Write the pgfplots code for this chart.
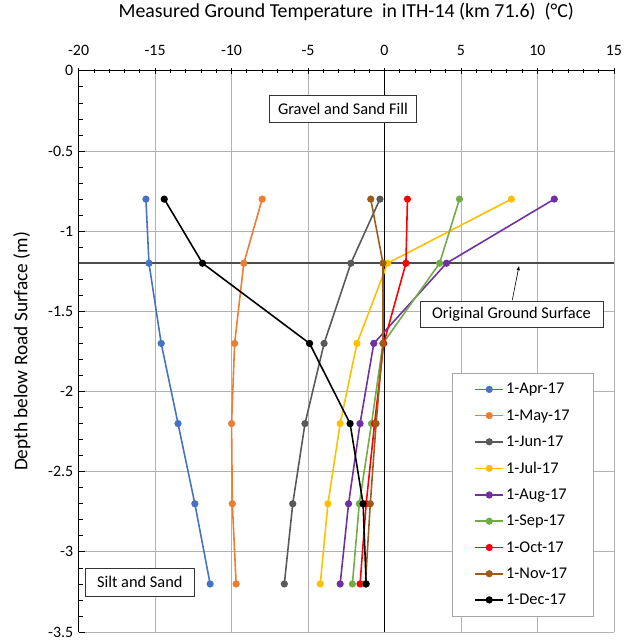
\documentclass[border=0pt]{standalone}
\usepackage{pgfplots}
\pgfplotsset{compat=1.18}
\usepackage{fontspec}
\setmainfont{Carlito}

\definecolor{cApr}{HTML}{4472C4}
\definecolor{cMay}{HTML}{ED7D31}
\definecolor{cJun}{HTML}{595959}
\definecolor{cJul}{HTML}{FFC000}
\definecolor{cAug}{HTML}{7030A0}
\definecolor{cSep}{HTML}{70AD47}
\definecolor{cOct}{HTML}{FF0000}
\definecolor{cNov}{HTML}{9C5B1A}
\definecolor{cDec}{HTML}{000000}

\begin{document}
\begin{tikzpicture}
\begin{axis}[
  scale only axis, width=538bp, height=564bp,
  xmin=-20, xmax=15, ymin=-3.5, ymax=0,
  axis x line*=top, axis y line*=left,
  xtick={-20,-15,...,15}, minor x tick num=4,
  ytick={-3.5,-3,...,0}, minor y tick num=4,
  yticklabel style={/pgf/number format/fixed, xshift=-2bp},
  xticklabel style={yshift=9bp},
  xtick align=center, ytick align=inside,
  major tick length=6bp, minor tick length=4bp,
  tick style={black, line width=0.8pt},
  grid=major, grid style={gray!60, line width=0.8pt},
  axis line style={black, line width=0.8pt},
  /pgf/number format/assume math mode=true,
  tick label style={font=\fontsize{16}{18}\selectfont},
  title={Measured Ground Temperature \ in ITH-14 (km 71.6) \ (°C)},
  title style={at={(0.5,1)}, anchor=center, yshift=53bp, font=\fontsize{20}{22}\selectfont},
  ylabel={Depth below Road Surface (m)},
  ylabel style={at={(axis description cs:-0.106,0.5)}, anchor=center, font=\fontsize{19.5}{21}\selectfont},
  every axis plot/.append style={line width=1.6pt, mark=*, mark size=2.8pt},
  legend style={at={(axis cs:4.43,-1.886)}, anchor=north west, draw=gray!70,
    font=\fontsize{16.5}{18}\selectfont, row sep=10.3pt, inner xsep=22bp, inner ysep=8bp},
  legend cell align=left,
  legend image code/.code={\draw[mark repeat=2,mark phase=2] plot coordinates {(0cm,0cm)(0.5cm,0cm)(1cm,0cm)};},
  clip=false,
]
\addplot[black, line width=1.4pt, mark=none, forget plot] coordinates {(0,0) (0,-3.5)};
\addplot[black!70, line width=1.7pt, mark=none, forget plot] coordinates {(-20,-1.2) (15,-1.2)};

\addplot[cApr] coordinates {(-15.6,-0.8) (-15.4,-1.2) (-14.6,-1.7) (-13.5,-2.2) (-12.4,-2.7) (-11.4,-3.2)};
\addlegendentry{1-Apr-17}
\addplot[cMay] coordinates {(-8.0,-0.8) (-9.2,-1.2) (-9.8,-1.7) (-10.0,-2.2) (-9.95,-2.7) (-9.7,-3.2)};
\addlegendentry{1-May-17}
\addplot[cJun] coordinates {(-0.3,-0.8) (-2.2,-1.2) (-3.95,-1.7) (-5.2,-2.2) (-6.0,-2.7) (-6.55,-3.2)};
\addlegendentry{1-Jun-17}
\addplot[cJul] coordinates {(8.3,-0.8) (0.2,-1.2) (-1.8,-1.7) (-2.9,-2.2) (-3.7,-2.7) (-4.2,-3.2)};
\addlegendentry{1-Jul-17}
\addplot[cAug] coordinates {(11.1,-0.8) (4.05,-1.2) (-0.7,-1.7) (-1.6,-2.2) (-2.35,-2.7) (-2.9,-3.2)};
\addlegendentry{1-Aug-17}
\addplot[cSep] coordinates {(4.9,-0.8) (3.6,-1.2) (-0.1,-1.7) (-0.85,-2.2) (-1.65,-2.7) (-2.1,-3.2)};
\addlegendentry{1-Sep-17}
\addplot[cOct] coordinates {(1.5,-0.8) (1.4,-1.2) (-0.05,-1.7) (-0.65,-2.2) (-1.2,-2.7) (-1.6,-3.2)};
\addlegendentry{1-Oct-17}
\addplot[cNov] coordinates {(-0.9,-0.8) (-0.1,-1.2) (-0.1,-1.7) (-0.55,-2.2) (-0.93,-2.7) (-1.25,-3.2)};
\addlegendentry{1-Nov-17}
\addplot[cDec] coordinates {(-14.4,-0.8) (-11.9,-1.2) (-4.9,-1.7) (-2.25,-2.2) (-1.4,-2.7) (-1.2,-3.2)};
\addlegendentry{1-Dec-17}

\node[draw=black!80, fill=white, font=\fontsize{16.5}{18}\selectfont, minimum width=148bp, minimum height=28bp]
  at (axis cs:-2.72,-0.236) {Gravel and Sand Fill};
\node[draw=black!80, fill=white, font=\fontsize{16.5}{18}\selectfont, minimum width=184bp, minimum height=26bp]
  at (axis cs:8.3,-1.52) {Original Ground Surface};
\node[draw=black!80, fill=white, font=\fontsize{16.5}{18}\selectfont, minimum width=109bp, minimum height=28bp]
  at (axis cs:-16.0,-3.19) {Silt and Sand};
\draw[-latex, black, line width=0.6pt] (axis cs:8.35,-1.43) -- (axis cs:8.8,-1.215);
\end{axis}
\path (-79bp,-9bp) rectangle (559bp,632bp);
\end{tikzpicture}
\end{document}
